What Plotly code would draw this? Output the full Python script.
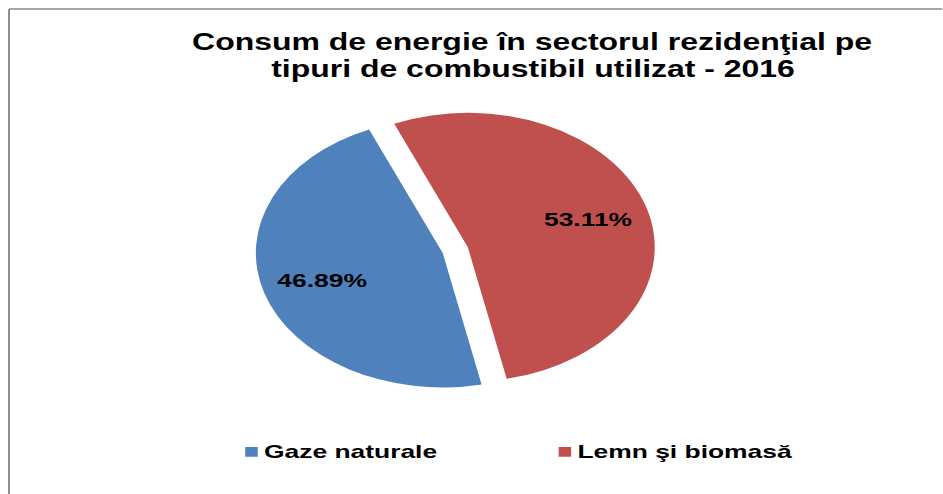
import plotly.graph_objects as go

# ---- data ----
labels = ["Gaze naturale", "Lemn şi biomasă"]
values = [46.89, 53.11]
pulls = [0, 0.141]
colors = ["#4F81BD", "#C0504D"]
title_lines = ["Consum de energie în sectorul rezidenţial pe",
               "tipuri de combustibil utilizat - 2016"]

# The reference image is horizontally stretched; draw at a narrower width
# and stretch the rendered page horizontally.
STRETCH = 1.39
W_OUT, H = 943, 494
W = W_OUT / STRETCH

FONT = "Arial, 'Liberation Sans', sans-serif"

cx, cy, half = 318.7, 253.0, 153.5   # pie domain center / half size in px

fig = go.Figure(go.Pie(
    labels=labels,
    values=values,
    pull=pulls,
    sort=False,
    direction="clockwise",
    rotation=168,
    marker=dict(colors=colors, line=dict(width=0)),
    textinfo="percent",
    texttemplate="%{percent:.2%}",
    textposition="inside",
    insidetextorientation="horizontal",
    textfont=dict(family=FONT, size=19, color="black", weight="bold"),
    domain=dict(x=[(cx - half) / W, (cx + half) / W],
                y=[(H - cy - half) / H, (H - cy + half) / H]),
    hoverinfo="label+percent",
))

title_y = [42.5, 69.0]
annotations = [
    dict(text=t, xref="paper", yref="paper", x=383.5 / W, xanchor="center",
         y=1 - yy / H, yanchor="middle", showarrow=False,
         font=dict(family=FONT, size=23, color="black", weight="bold"))
    for t, yy in zip(title_lines, title_y)
]

bx, by = 6.5, 9.0
fig.update_layout(
    width=W, height=H,
    margin=dict(l=0, r=0, t=0, b=0),
    paper_bgcolor="white",
    plot_bgcolor="white",
    annotations=annotations,
    legend=dict(
        orientation="h",
        x=150 / W, xanchor="left",
        y=(H - 451) / H, yanchor="middle",
        font=dict(family=FONT, size=19, color="black", weight="bold"),
        entrywidth=180.5, entrywidthmode="pixels",
        bgcolor="rgba(0,0,0,0)",
    ),
    shapes=[
        dict(type="line", xref="paper", yref="paper",
             x0=bx / W, x1=1.0, y0=1 - by / H, y1=1 - by / H,
             line=dict(color="#8a8a8a", width=1.6)),
        dict(type="line", xref="paper", yref="paper",
             x0=bx / W, x1=bx / W, y0=1 - by / H, y1=0.0,
             line=dict(color="#8a8a8a", width=1.4)),
    ],
)

post = """
document.body.style.margin='0';
document.body.style.overflow='hidden';
var gd=document.getElementById('{plot_id}');
try {
  var K = 1.35;
  var cd0 = gd.calcdata[0][0];
  var tr = cd0.trace;
  var svgRect = gd.querySelector('.main-svg').getBoundingClientRect();
  gd.querySelectorAll('.pielayer g.slice').forEach(function(s){
    var pt = s.__data__;
    var t = s.querySelector('text.slicetext');
    if(!t || !pt || !pt.pxmid) return;
    var pull = Array.isArray(tr.pull) ? (tr.pull[pt.i] || 0) : (tr.pull || 0);
    var scx = cd0.cx + pull * pt.pxmid[0], scy = cd0.cy + pull * pt.pxmid[1];
    var r = t.getBoundingClientRect();
    var px = (r.left + r.right) / 2 - svgRect.left;
    var py = (r.top + r.bottom) / 2 - svgRect.top;
    var dx = (K - 1) * (px - scx), dy = (K - 1) * (py - scy);
    t.setAttribute('transform', 'translate(' + dx + ',' + dy + ') ' + (t.getAttribute('transform') || ''));
  });
  gd.querySelectorAll('.legend .legendpoints path').forEach(function(p){
    p.setAttribute('transform', 'translate(11,1) ' + (p.getAttribute('transform') || '') + ' scale(0.75,0.8)');
  });
} catch(e) {}
gd.style.transformOrigin='0 0';
gd.style.transform='scaleX(%f)';
""" % STRETCH

fig.write_html("out.html", config={"displayModeBar": False}, post_script=post)
